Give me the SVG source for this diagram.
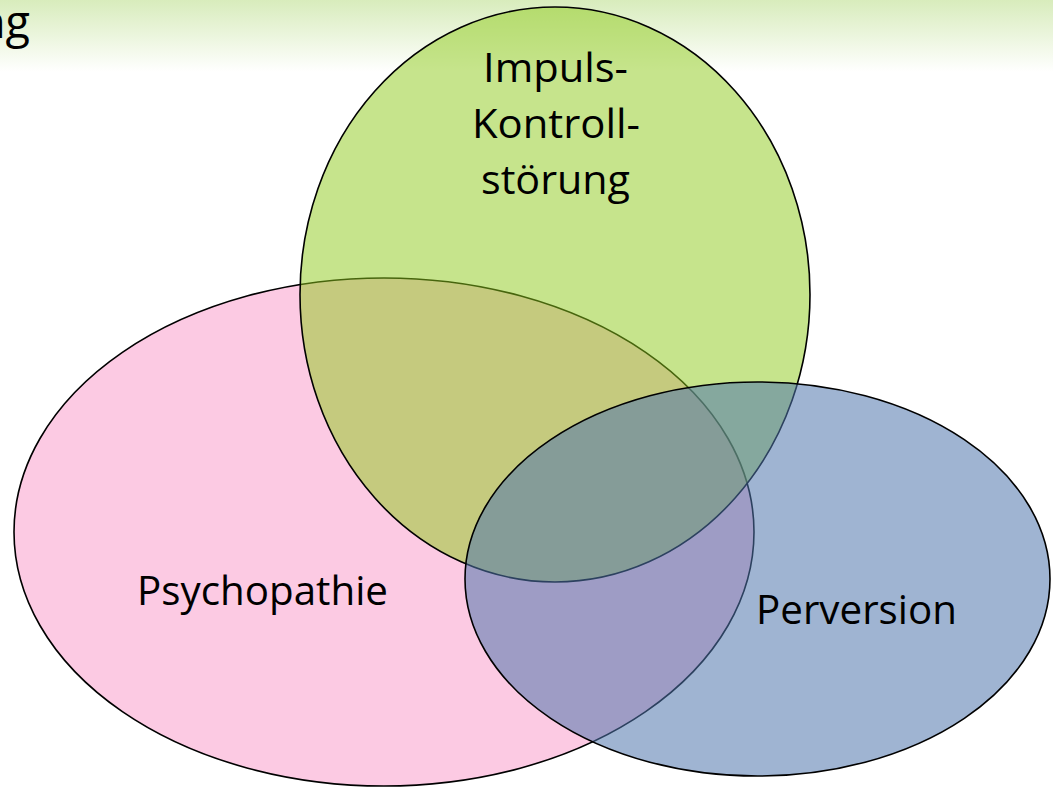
<svg xmlns="http://www.w3.org/2000/svg" width="1053" height="787" viewBox="0 0 1053 787">
  <defs>
    <linearGradient id="band" x1="0" y1="0" x2="0" y2="1">
      <stop offset="0" stop-color="#D8ECBC"/>
      <stop offset="1" stop-color="#FFFFFF"/>
    </linearGradient>
    <style>
      .set { stroke: #000; stroke-width: 1.6; }
      .label { font-family: "Open Sans", "Liberation Sans", sans-serif; font-size: 40px; fill: #000; }
    </style>
  </defs>

  <rect width="1053" height="787" fill="#FFFFFF"/>
  <!-- title band; the heading runs in from the left edge -->
  <rect x="0" y="0" width="1053" height="72" fill="url(#band)"/>
  <text class="label" x="30" y="37.5" text-anchor="end" style="font-size:45px">ng</text>

  <!-- Venn sets -->
  <g id="psychopathie">
    <ellipse class="set" cx="384" cy="532" rx="370" ry="254" fill="#FCCAE3"/>
    <text class="label" x="262.5" y="605" text-anchor="middle" textLength="251" lengthAdjust="spacingAndGlyphs">Psychopathie</text>
  </g>
  <g id="impulskontrolle">
    <ellipse class="set" cx="555" cy="294.5" rx="255" ry="287.5" fill="#8DC919" fill-opacity="0.5"/>
    <text class="label" x="555.5" y="82" text-anchor="middle" textLength="145" lengthAdjust="spacingAndGlyphs">Impuls-</text>
    <text class="label" x="556" y="138" text-anchor="middle" textLength="168" lengthAdjust="spacingAndGlyphs">Kontroll-</text>
    <text class="label" x="555.5" y="194" text-anchor="middle" textLength="149" lengthAdjust="spacingAndGlyphs">störung</text>
  </g>
  <g id="perversion">
    <ellipse class="set" cx="757.5" cy="579" rx="292.5" ry="197" fill="#5077AD" fill-opacity="0.55"/>
    <text class="label" x="856.5" y="624" text-anchor="middle" textLength="201" lengthAdjust="spacingAndGlyphs">Perversion</text>
  </g>
  <g id="connectors"/>
</svg>
